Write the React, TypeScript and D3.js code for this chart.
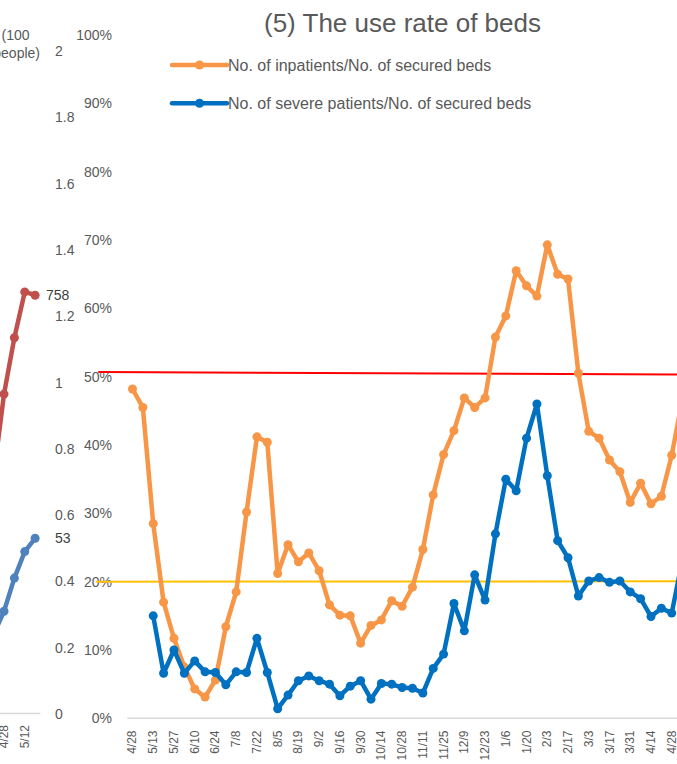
import React from "react";
import * as d3 from "d3";

// ---------- Main chart data ----------
const categories = [
  "4/28", "5/6", "5/13", "5/20", "5/27", "6/3", "6/10", "6/17", "6/24", "7/1",
  "7/8", "7/15", "7/22", "7/29", "8/5", "8/12", "8/19", "8/26", "9/2", "9/9",
  "9/16", "9/23", "9/30", "10/7", "10/14", "10/21", "10/28", "11/4", "11/11", "11/18",
  "11/25", "12/2", "12/9", "12/16", "12/23", "12/30", "1/6", "1/13", "1/20", "1/27",
  "2/3", "2/10", "2/17", "2/24", "3/3", "3/10", "3/17", "3/24", "3/31", "4/7",
  "4/14", "4/21", "4/28", "5/5",
];

const inpatientRate = [
  48.2, 45.5, 28.5, 17.0, 11.7, 7.5, 4.3, 3.1, 5.6, 13.4,
  18.5, 30.2, 41.2, 40.4, 21.2, 25.4, 22.9, 24.2, 21.6, 16.6,
  15.1, 15.0, 11.0, 13.6, 14.4, 17.2, 16.4, 19.2, 24.7, 32.7,
  38.6, 42.1, 46.9, 45.5, 46.9, 55.8, 58.9, 65.5, 63.3, 61.8,
  69.3, 65.0, 64.3, 50.5, 42.0, 41.0, 37.8, 36.1, 31.6, 34.4,
  31.4, 32.5, 38.5, 46.5,
];

const severeRate: (number | null)[] = [
  null, null, 15.0, 6.6, 10.0, 6.6, 8.4, 6.8, 6.7, 4.9,
  6.8, 6.7, 11.7, 6.7, 1.4, 3.4, 5.5, 6.2, 5.5, 5.0,
  3.3, 4.7, 5.5, 2.8, 5.1, 5.0, 4.5, 4.4, 3.7, 7.3,
  9.4, 16.8, 12.8, 21.0, 17.3, 27.0, 35.0, 33.3, 41.0, 46.0,
  35.5, 26.0, 23.5, 17.9, 20.1, 20.6, 19.9, 20.1, 18.5, 17.5,
  14.9, 16.1, 15.4, 23.0,
];

const pctTicks = [0, 10, 20, 30, 40, 50, 60, 70, 80, 90, 100];

// reference lines (percent values at start / end, category index span)
const redLine = { from: -3.3, to: 53.5, startPct: 50.7, endPct: 50.3 };
const yellowLine = { from: -3.5, to: 53.5, startPct: 20.0, endPct: 20.05 };

const legendItems = [
  "No. of inpatients/No. of secured beds",
  "No. of severe patients/No. of secured beds",
];

// ---------- Left (cropped) chart data ----------
const leftCategories = ["4/14", "4/21", "4/28", "5/5", "5/12", "5/19"];
const leftRed: (number | null)[] = [null, 431, 579, 681, 764, 758];
const leftBlue: (number | null)[] = [null, 24, 31, 41, 49, 53];
const leftTicks = [0, 0.2, 0.4, 0.6, 0.8, 1, 1.2, 1.4, 1.6, 1.8, 2];

const W = 677;
const H = 764;
const ORANGE = "#F79646";
const BLUE = "#0070C0";
const GREY = "#595959";
const FONT = "'Liberation Sans', Arial, sans-serif";

export default function App() {
  // main chart scales
  const step = 10.37;
  const x0 = 127.3;
  const x = d3
    .scaleBand<number>()
    .domain(categories.map((_, i) => i))
    .range([x0, x0 + categories.length * step])
    .padding(0);
  const xc = (i: number) => x0 + (i + 0.5) * step;
  const y = d3.scaleLinear().domain([0, 100]).range([718.3, 35.1]);

  const line = d3
    .line<number | null>()
    .defined((d) => d != null)
    .x((_, i) => xc(i))
    .y((d) => y(d as number));

  // left chart scales
  const lStep = 10.37;
  const lEnd = 40.3;
  const lx0 = lEnd - leftCategories.length * lStep;
  const lxc = (i: number) => lx0 + (i + 0.5) * lStep;
  const ySec = d3.scaleLinear().domain([0, 2]).range([714, 51]);
  const yRed = d3.scaleLinear().domain([0, 1200]).range([714, 51]);
  const yBlueL = d3.scaleLinear().domain([0, 200]).range([714, 51]);

  const lineRed = d3
    .line<number | null>()
    .defined((d) => d != null)
    .x((_, i) => lxc(i))
    .y((d) => yRed(d as number));
  const lineBlueL = d3
    .line<number | null>()
    .defined((d) => d != null)
    .x((_, i) => lxc(i))
    .y((d) => yBlueL(d as number));

  const lastRedIdx = leftRed.length - 1;
  const lastBlueIdx = leftBlue.length - 1;

  return (
    <svg
      width={W}
      height={H}
      style={{ position: "absolute", left: 0, top: 0, background: "#fff" }}
      fontFamily={FONT}
    >
      <rect x={0} y={0} width={W} height={H} fill="#fff" />

      {/* ---------- Left cropped chart ---------- */}
      <text x={29.5} y={35} fontSize={14} fill={GREY} textAnchor="end" dominantBaseline="central">
        (100
      </text>
      <text x={40} y={53} fontSize={14} fill={GREY} textAnchor="end" dominantBaseline="central">
        people)
      </text>
      {leftTicks.map((t) => (
        <text
          key={"lt" + t}
          x={55}
          y={ySec(t)}
          fontSize={14}
          fill={GREY}
          dominantBaseline="central"
        >
          {String(t)}
        </text>
      ))}
      <line x1={lx0} x2={lEnd} y1={713.5} y2={713.5} stroke="#D9D9D9" strokeWidth={1.5} />
      {leftCategories.map((c, i) =>
        i % 2 === 0 ? (
          <text
            key={"lc" + c}
            transform={`translate(${lxc(i)},${725}) rotate(-90)`}
            fontSize={12}
            fill={GREY}
            textAnchor="end"
            dominantBaseline="central"
          >
            {c}
          </text>
        ) : null
      )}
      <path d={lineRed(leftRed) || ""} fill="none" stroke="#C0504D" strokeWidth={4.5} strokeLinejoin="round" />
      {leftRed.map((v, i) =>
        v == null ? null : <circle key={"lr" + i} cx={lxc(i)} cy={yRed(v)} r={4.5} fill="#C0504D" />
      )}
      <path d={lineBlueL(leftBlue) || ""} fill="none" stroke="#4F81BD" strokeWidth={4.5} strokeLinejoin="round" />
      {leftBlue.map((v, i) =>
        v == null ? null : <circle key={"lb" + i} cx={lxc(i)} cy={yBlueL(v)} r={4.5} fill="#4F81BD" />
      )}
      <text x={46} y={yRed(leftRed[lastRedIdx] as number)} fontSize={14} fill="#404040" dominantBaseline="central">
        {String(leftRed[lastRedIdx])}
      </text>
      <text x={55} y={yBlueL(leftBlue[lastBlueIdx] as number)} fontSize={14} fill="#404040" dominantBaseline="central">
        {String(leftBlue[lastBlueIdx])}
      </text>

      {/* ---------- Main chart ---------- */}
      <text x={402.5} y={23} fontSize={26} fill={GREY} textAnchor="middle" dominantBaseline="central">
        (5) The use rate of beds
      </text>

      {pctTicks.map((t) => (
        <text
          key={"pt" + t}
          x={112}
          y={y(t)}
          fontSize={14}
          fill={GREY}
          textAnchor="end"
          dominantBaseline="central"
        >
          {t + "%"}
        </text>
      ))}

      <line
        x1={x(0) as number}
        x2={(x(categories.length - 1) as number) + x.bandwidth()}
        y1={718.3}
        y2={718.3}
        stroke="#D9D9D9"
        strokeWidth={1.5}
      />
      {categories.map((c, i) =>
        i % 2 === 0 ? (
          <text
            key={"c" + i}
            transform={`translate(${xc(i)},${730.5}) rotate(-90)`}
            fontSize={12}
            fill={GREY}
            textAnchor="end"
            dominantBaseline="central"
          >
            {c}
          </text>
        ) : null
      )}

      {/* reference lines */}
      <line
        x1={xc(redLine.from)}
        x2={xc(redLine.to)}
        y1={y(redLine.startPct)}
        y2={y(redLine.endPct)}
        stroke="#FF0000"
        strokeWidth={2}
      />
      <line
        x1={xc(yellowLine.from)}
        x2={xc(yellowLine.to)}
        y1={y(yellowLine.startPct)}
        y2={y(yellowLine.endPct)}
        stroke="#FFC000"
        strokeWidth={2}
      />

      {/* series */}
      <path d={line(inpatientRate) || ""} fill="none" stroke={ORANGE} strokeWidth={4.5} strokeLinejoin="round" />
      {inpatientRate.map((v, i) => (
        <circle key={"o" + i} cx={xc(i)} cy={y(v)} r={4.5} fill={ORANGE} />
      ))}
      <path d={line(severeRate) || ""} fill="none" stroke={BLUE} strokeWidth={4.5} strokeLinejoin="round" />
      {severeRate.map((v, i) =>
        v == null ? null : <circle key={"b" + i} cx={xc(i)} cy={y(v)} r={4.5} fill={BLUE} />
      )}

      {/* legend */}
      {legendItems.map((label, i) => {
        const ly = 65 + i * 38.3;
        const col = i === 0 ? ORANGE : BLUE;
        return (
          <g key={"lg" + i}>
            <line x1={172} x2={227} y1={ly} y2={ly} stroke={col} strokeWidth={4.5} strokeLinecap="round" />
            <circle cx={199.5} cy={ly} r={4.5} fill={col} />
            <text x={228} y={ly} fontSize={16} fill={GREY} dominantBaseline="central">
              {label}
            </text>
          </g>
        );
      })}
    </svg>
  );
}
